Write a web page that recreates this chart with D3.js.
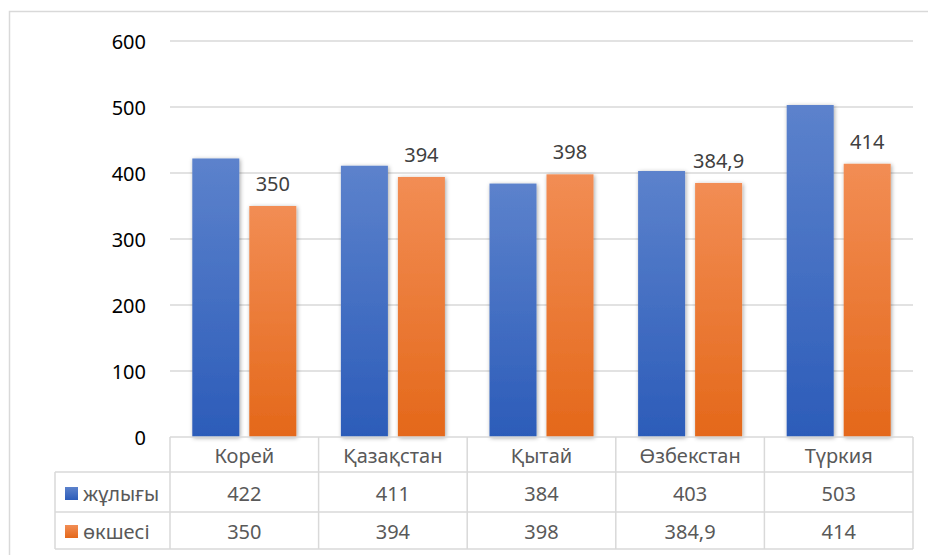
<!DOCTYPE html>
<html>
<head>
<meta charset="utf-8">
<script src="https://cdn.jsdelivr.net/npm/d3@7"></script>
<style>
  body { margin: 0; background: #fff; }
  text { font-family: "Noto Sans", sans-serif; }
</style>
</head>
<body>
<div id="chart"></div>
<script>
// data
var countries = ["Корей", "Қазақстан", "Қытай", "Өзбекстан", "Түркия"];
var seriesNames = ["жұлығы", "өкшесі"];
var zhulygy = [422, 411, 384, 403, 503];
var okshesi = [350, 394, 398, 384.9, 414];
var yTicks = [0, 100, 200, 300, 400, 500, 600];

var width = 928, height = 555;

var svg = d3.select("#chart").append("svg")
  .attr("width", width)
  .attr("height", height);

var defs = svg.append("defs");

// bar colours, light top to dark bottom
function grad(id, top, bottom) {
  var g = defs.append("linearGradient").attr("id", id)
    .attr("x1", 0).attr("y1", 0).attr("x2", 0).attr("y2", 1);
  g.append("stop").attr("offset", "0%").attr("stop-color", top);
  g.append("stop").attr("offset", "100%").attr("stop-color", bottom);
}
grad("gBlue", "#5c82cc", "#2c5cb9");
grad("gOrange", "#f28d54", "#e4681a");

defs.append("filter").attr("id", "shadow")
  .attr("x", "-20%").attr("y", "-10%").attr("width", "140%").attr("height", "120%")
  .append("feDropShadow")
  .attr("dx", 1).attr("dy", 1).attr("stdDeviation", 2)
  .attr("flood-color", "#000").attr("flood-opacity", 0.35);

// outer frame
svg.append("rect")
  .attr("x", 9.5).attr("y", 11.5)
  .attr("width", 930).attr("height", 560)
  .attr("fill", "none").attr("stroke", "#d9d9d9").attr("stroke-width", 1.5);

var x0 = d3.scaleBand().domain(countries).range([170, 913]);
var x1 = d3.scaleBand().domain(seriesNames).range([0, 104]).paddingInner(10 / 57);
var y = d3.scaleLinear().domain([0, 600]).range([437, 41]);

// gridlines
svg.append("g").selectAll("line")
  .data(yTicks.slice(1))
  .enter().append("line")
  .attr("x1", 170).attr("x2", 913)
  .attr("y1", function (d) { return y(d); })
  .attr("y2", function (d) { return y(d); })
  .attr("stroke", "#d9d9d9").attr("stroke-width", 1.5);

// y axis labels
var yAxis = d3.axisLeft(y).tickValues(yTicks).tickSize(0).tickPadding(0);
var gy = svg.append("g").attr("transform", "translate(146,0)").call(yAxis);
gy.select(".domain").remove();
gy.selectAll("text")
  .attr("font-size", 20)
  .attr("font-family", "Noto Sans, sans-serif")
  .attr("fill", "#000")
  .attr("dy", "0.35em");

var seriesData = [zhulygy, okshesi];
var fills = ["url(#gBlue)", "url(#gOrange)"];
var groupOff = (x0.bandwidth() - 104) / 2;

// bars
seriesData.forEach(function (vals, si) {
  svg.append("g").selectAll("rect")
    .data(vals)
    .enter().append("rect")
    .attr("x", function (d, i) { return x0(countries[i]) + groupOff + x1(seriesNames[si]); })
    .attr("y", function (d) { return y(d); })
    .attr("width", x1.bandwidth())
    .attr("height", function (d) { return y(0) - y(d); })
    .attr("fill", fills[si])
    .attr("filter", "url(#shadow)");
});

var fmt = function (d) { return String(d).replace(".", ","); };

// data labels on the second series only
svg.append("g").selectAll("text")
  .data(okshesi)
  .enter().append("text")
  .attr("x", function (d, i) { return x0(countries[i]) + groupOff + x1(seriesNames[1]) + x1.bandwidth() / 2; })
  .attr("y", function (d) { return y(d) - 15; })
  .attr("text-anchor", "middle")
  .attr("font-size", 20)
  .attr("fill", "#404040")
  .text(fmt);

// data table
var rowY = [437, 472, 512, 549];
var tbl = svg.append("g").attr("stroke", "#d9d9d9").attr("stroke-width", 1.5);
tbl.append("line").attr("x1", 170).attr("x2", 913).attr("y1", rowY[0]).attr("y2", rowY[0]);
rowY.slice(1).forEach(function (ry) {
  tbl.append("line").attr("x1", 55).attr("x2", 913).attr("y1", ry).attr("y2", ry);
});
var edges = countries.map(function (c) { return x0(c); }).concat([913]);
edges.forEach(function (ex) {
  tbl.append("line").attr("x1", ex).attr("x2", ex).attr("y1", rowY[0]).attr("y2", rowY[3]);
});
tbl.append("line").attr("x1", 55).attr("x2", 55).attr("y1", rowY[1]).attr("y2", rowY[3]);

// header row
svg.append("g").selectAll("text")
  .data(countries)
  .enter().append("text")
  .attr("x", function (d) { return x0(d) + x0.bandwidth() / 2; })
  .attr("y", 463)
  .attr("text-anchor", "middle")
  .attr("font-size", 20)
  .attr("fill", "#595959")
  .text(function (d) { return d; });

// value rows
seriesData.forEach(function (vals, si) {
  var ry = [501, 539][si];
  svg.append("g").selectAll("text")
    .data(vals)
    .enter().append("text")
    .attr("x", function (d, i) { return x0(countries[i]) + x0.bandwidth() / 2; })
    .attr("y", ry)
    .attr("text-anchor", "middle")
    .attr("font-size", 20)
    .attr("fill", "#595959")
    .text(fmt);

  svg.append("rect")
    .attr("x", 65).attr("y", ry - 14)
    .attr("width", 13).attr("height", 13)
    .attr("fill", fills[si]);
  svg.append("text")
    .attr("x", 83).attr("y", ry)
    .attr("font-size", 20)
    .attr("fill", "#595959")
    .text(seriesNames[si]);
});
</script>
</body>
</html>
